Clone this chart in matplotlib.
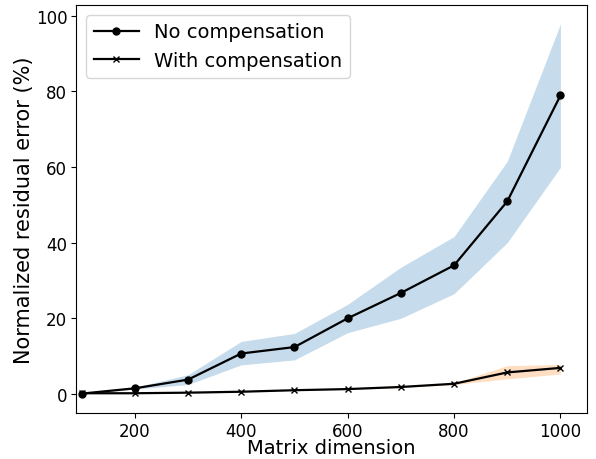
import matplotlib
matplotlib.use("Agg")
import matplotlib.pyplot as plt

dims = [100, 200, 300, 400, 500, 600, 700, 800, 900, 1000]

# no compensation: mean and band
no_comp = [0.1, 1.5, 3.8, 10.7, 12.4, 20.0, 26.7, 34.0, 50.9, 78.9]
no_comp_hi = [0.3, 1.8, 5.1, 13.9, 16.0, 23.7, 33.5, 41.6, 61.5, 97.8]
no_comp_lo = [0.0, 1.3, 2.5, 7.7, 9.0, 16.2, 20.0, 26.5, 40.0, 59.9]

# with compensation: mean and band
with_comp = [0.2, 0.2, 0.35, 0.6, 1.0, 1.3, 1.85, 2.7, 5.7, 6.9]
with_comp_hi = [0.3, 0.3, 0.45, 0.7, 1.1, 1.4, 2.0, 2.9, 7.5, 7.8]
with_comp_lo = [0.1, 0.1, 0.25, 0.5, 0.9, 1.2, 1.7, 2.5, 4.0, 5.3]

fig = plt.figure(figsize=(5.96, 4.6), dpi=100)
ax = fig.add_axes([0.128, 0.101, 0.857, 0.886])

ax.fill_between(dims, no_comp_lo, no_comp_hi, color='C0', alpha=0.25, linewidth=0)
ax.fill_between(dims, with_comp_lo, with_comp_hi, color='C1', alpha=0.25, linewidth=0)
ax.plot(dims, no_comp, color='black', marker='o', markersize=5, linewidth=1.6, label='No compensation')
ax.plot(dims, with_comp, color='black', marker='x', markersize=5, linewidth=1.6, label='With compensation')

ax.set_xlim(90, 1050)
ax.set_ylim(-4.9, 102.8)
ax.set_xticks([200, 400, 600, 800, 1000])
ax.set_yticks([0, 20, 40, 60, 80, 100])
ax.tick_params(labelsize=12, pad=3)
ax.set_xlabel('Matrix dimension', fontsize=14, labelpad=-1)
ax.set_ylabel('Normalized residual error (%)', fontsize=15, labelpad=1)
ax.legend(loc='upper left', fontsize=14, handlelength=2.3)

fig.savefig('out.png', dpi=100)
